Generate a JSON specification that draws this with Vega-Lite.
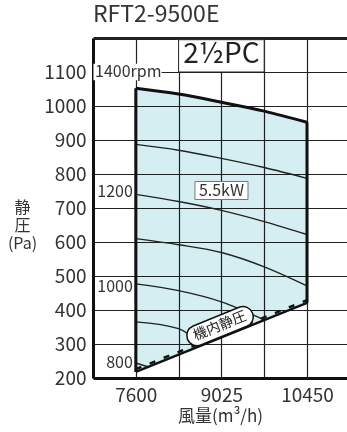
{
  "$schema": "https://vega.github.io/schema/vega-lite/v6.json",
  "autosize": "none",
  "width": 254,
  "height": 340,
  "padding": {"left": 93, "top": 38, "right": 0, "bottom": 54},
  "background": "white",
  "title": {"text": "RFT2-9500E", "anchor": "start", "frame": "group", "fontSize": 23, "font": "Noto Sans CJK JP", "fontWeight": "normal", "color": "#333", "offset": 2},
  "config": {"view": {"stroke": null}, "font": "Noto Sans CJK JP"},
  "datasets": {
    "region": [
      {"q": 7600, "p": 1052, "p2": 218},
      {"q": 8312.5, "p": 1035, "p2": 268.75},
      {"q": 9025, "p": 1011, "p2": 319.5},
      {"q": 9737.5, "p": 985, "p2": 370.25},
      {"q": 10450, "p": 952, "p2": 421}
    ],
    "curves": [
      {"rpm": 1300, "q": 7600, "p": 887}, {"rpm": 1300, "q": 8312.5, "p": 870}, {"rpm": 1300, "q": 9025, "p": 846}, {"rpm": 1300, "q": 9737.5, "p": 819}, {"rpm": 1300, "q": 10450, "p": 787},
      {"rpm": 1200, "q": 7600, "p": 740}, {"rpm": 1200, "q": 8312.5, "p": 719}, {"rpm": 1200, "q": 9025, "p": 693}, {"rpm": 1200, "q": 9737.5, "p": 660}, {"rpm": 1200, "q": 10450, "p": 622},
      {"rpm": 1100, "q": 7600, "p": 610}, {"rpm": 1100, "q": 8312.5, "p": 592}, {"rpm": 1100, "q": 9025, "p": 569}, {"rpm": 1100, "q": 9737.5, "p": 527}, {"rpm": 1100, "q": 10450, "p": 471},
      {"rpm": 1000, "q": 7600, "p": 477}, {"rpm": 1000, "q": 8312.5, "p": 457}, {"rpm": 1000, "q": 9025, "p": 424}, {"rpm": 1000, "q": 9737.5, "p": 371},
      {"rpm": 900, "q": 7600, "p": 365}, {"rpm": 900, "q": 8312.5, "p": 345}, {"rpm": 900, "q": 8700, "p": 297},
      {"rpm": 800, "q": 7600, "p": 244}, {"rpm": 800, "q": 7800, "p": 233}
    ],
    "top": [
      {"q": 7600, "p": 1052}, {"q": 8312.5, "p": 1035}, {"q": 9025, "p": 1011}, {"q": 9737.5, "p": 985}, {"q": 10450, "p": 952}
    ],
    "bottomline": [{"q": 7600, "p": 218}, {"q": 10450, "p": 421}],
    "dashline": [{"q": 7600, "p": 226}, {"q": 10450, "p": 429}],
    "edges": [{"q": 7600, "p": 218, "p2": 1052}, {"q": 10450, "p": 421, "p2": 952}],
    "bgrect": [{"q": 6895, "q2": 8030, "p": 1076, "p2": 1124}],
    "pcbox": [{"q": 8312.5, "q2": 9737.5, "p": 1100, "p2": 1195}],
    "kwbox": [{"q": 8585, "q2": 9468, "p": 725, "p2": 778}],
    "badge": [{"q": 8619, "p": 325}, {"q": 9385, "p": 380}],
    "rpmlabels": [{"q": 7600, "p": 746, "t": "1200"}, {"q": 7600, "p": 468, "t": "1000"}, {"q": 7600, "p": 244, "t": "800"}],
    "toplabel": [{"q": 6887.5, "p": 1100, "t": "1400rpm"}],
    "kwlabel": [{"q": 9026, "p": 751, "t": "5.5kW"}],
    "pclabel": [{"q": 9025, "p": 1150, "t": "2½PC"}],
    "badgelabel": [{"q": 9002, "p": 352, "t": "機内静圧"}]
  },
  "encoding": {
    "x": {"field": "q", "type": "quantitative", "scale": {"domain": [6887.5, 11116], "zero": false, "nice": false},
      "axis": {"values": [7600, 8312.5, 9025, 9737.5, 10450], "labelExpr": "datum.value == 7600 || datum.value == 9025 || datum.value == 10450 ? datum.label : ''", "title": "風量(m³/h)", "titleFontSize": 17, "titleFontWeight": "normal", "titleColor": "#333", "titlePadding": 3, "labelFontSize": 19, "labelColor": "#333", "labelPadding": 8, "ticks": false, "grid": true, "gridColor": "#222", "gridWidth": 1.2, "gridOpacity": 1, "domainColor": "#111", "domainWidth": 3, "labelFlush": false, "labelOverlap": false, "format": "d"}},
    "y": {"field": "p", "type": "quantitative", "scale": {"domain": [200, 1200], "zero": false, "nice": false},
      "axis": {"values": [200, 300, 400, 500, 600, 700, 800, 900, 1000, 1100, 1200], "labelExpr": "datum.value == 1200 ? '' : datum.label", "format": "d", "labelOverlap": false, "title": ["静", "圧", "(Pa)"], "titleAngle": 0, "titleAlign": "center", "titleBaseline": "top", "titleX": -71, "titleY": 161, "titleFontSize": 16, "titleLineHeight": 18, "titleFontWeight": "normal", "titleColor": "#333", "labelFontSize": 19, "labelColor": "#333", "labelPadding": 7, "ticks": false, "grid": true, "gridColor": "#222", "gridOpacity": 1, "gridWidth": {"condition": {"test": "datum.value == 1200", "value": 3}, "value": 1.2}, "domainColor": "#111", "domainWidth": 3, "labelFlush": false}}
  },
  "layer": [
    {
      "data": {"name": "region"},
      "mark": {"type": "area", "color": "#d4eef2", "opacity": 1, "blend": "multiply"},
      "encoding": {"y2": {"field": "p2"}}
    },
    {
      "data": {"name": "curves"},
      "mark": {"type": "line", "color": "#222", "strokeWidth": 1.4, "interpolate": "monotone"},
      "encoding": {"detail": {"field": "rpm"}}
    },
    {
      "data": {"name": "top"},
      "mark": {"type": "line", "color": "#111", "strokeWidth": 3, "interpolate": "monotone"}
    },
    {
      "data": {"name": "bottomline"},
      "mark": {"type": "line", "color": "#111", "strokeWidth": 2.5}
    },
    {
      "data": {"name": "dashline"},
      "mark": {"type": "line", "color": "#111", "strokeWidth": 2.5, "strokeDash": [6, 9]}
    },
    {
      "data": {"name": "edges"},
      "mark": {"type": "rule", "color": "#111", "strokeWidth": 3},
      "encoding": {"y2": {"field": "p2"}}
    },
    {
      "data": {"name": "bgrect"},
      "mark": {"type": "rect", "color": "white"},
      "encoding": {"x2": {"field": "q2"}, "y2": {"field": "p2"}}
    },
    {
      "data": {"name": "pcbox"},
      "mark": {"type": "rect", "fill": "white", "stroke": "#222", "strokeWidth": 1},
      "encoding": {"x2": {"field": "q2"}, "y2": {"field": "p2"}}
    },
    {
      "data": {"name": "kwbox"},
      "mark": {"type": "rect", "fill": "white", "stroke": "#777", "strokeWidth": 1},
      "encoding": {"x2": {"field": "q2"}, "y2": {"field": "p2"}}
    },
    {
      "data": {"name": "badge"},
      "mark": {"type": "line", "color": "#111", "strokeWidth": 22, "strokeCap": "round"}
    },
    {
      "data": {"name": "badge"},
      "mark": {"type": "line", "color": "white", "strokeWidth": 19, "strokeCap": "round"}
    },
    {
      "data": {"name": "rpmlabels"},
      "mark": {"type": "text", "align": "right", "baseline": "middle", "dx": -3, "fontSize": 16, "color": "#333"},
      "encoding": {"text": {"field": "t"}}
    },
    {
      "data": {"name": "toplabel"},
      "mark": {"type": "text", "align": "left", "baseline": "middle", "dx": 2, "fontSize": 16, "color": "#333"},
      "encoding": {"text": {"field": "t"}}
    },
    {
      "data": {"name": "kwlabel"},
      "mark": {"type": "text", "align": "center", "baseline": "middle", "fontSize": 16, "color": "#333"},
      "encoding": {"text": {"field": "t"}}
    },
    {
      "data": {"name": "pclabel"},
      "mark": {"type": "text", "align": "center", "baseline": "middle", "fontSize": 28, "color": "#222"},
      "encoding": {"text": {"field": "t"}}
    },
    {
      "data": {"name": "badgelabel"},
      "mark": {"type": "text", "align": "center", "baseline": "middle", "fontSize": 14, "angle": -22, "color": "#222"},
      "encoding": {"text": {"field": "t"}}
    }
  ]
}
